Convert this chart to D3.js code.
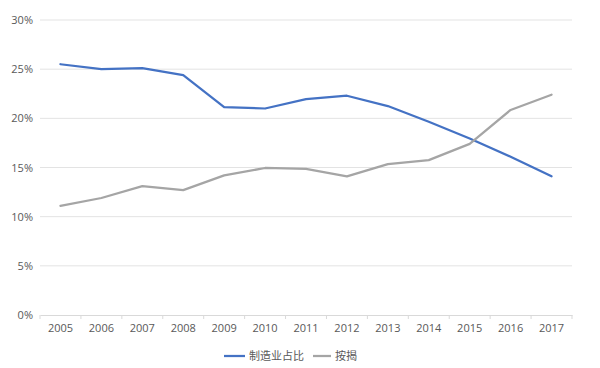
<!DOCTYPE html>
<html>
<head>
<meta charset="utf-8">
<script src="https://cdn.jsdelivr.net/npm/d3@7"></script>
<style>
body { margin: 0; background: #fff; }
text { font-family: "Open Sans", "Noto Sans CJK SC", sans-serif; fill: #595959; }
</style>
</head>
<body>
<script>
const years = ['2005', '2006', '2007', '2008', '2009', '2010', '2011', '2012', '2013', '2014', '2015', '2016', '2017']
const manufacturing = [25.5, 25.0, 25.1, 24.4, 21.15, 21.0, 21.95, 22.3, 21.25, 19.65, 17.95, 16.1, 14.1]
const mortgage = [11.1, 11.9, 13.1, 12.7, 14.2, 14.95, 14.85, 14.1, 15.35, 15.75, 17.4, 20.85, 22.4]
const yTicks = [0, 5, 10, 15, 20, 25, 30]
const seriesNames = ['制造业占比', '按揭']
const colors = ['#4472C4', '#A5A5A5']

const svg = d3.select('body').append('svg')
.attr('width', 600)
.attr('height', 368)

const margin = {top: 20, right: 28, bottom: 53, left: 40}
const width = 600 - margin.left - margin.right
const height = 368 - margin.top - margin.bottom

const x = d3.scaleBand().domain(years).range([0, width])
const y = d3.scaleLinear().domain([0, 30]).range([height, 0])

const g = svg.append('g').attr('transform', `translate(${margin.left},${margin.top})`)

// gridlines
g.selectAll('.grid')
  .data(yTicks.filter((d) => d > 0))
  .enter()
  .append('line')
  .attr('x1', 0)
  .attr('x2', width)
  .attr('y1', (d) => y(d))
  .attr('y2', (d) => y(d))
  .attr('stroke', '#e3e3e3')
  .attr('stroke-width', 1)

const yAxis = g.append('g')
.call(d3.axisLeft(y).tickValues(yTicks).tickFormat((d) => d + '%').tickSize(0).tickPadding(7))
yAxis.select('.domain').remove()
yAxis.selectAll('text').style('font-size', '11px')

const xAxis = g.append('g')
.attr('transform', `translate(0,${height})`)
.call(d3.axisBottom(x).tickSize(0).tickPadding(9))
xAxis.select('.domain').attr('stroke', '#d9d9d9')
xAxis.selectAll('text').style('font-size', '11px')

// ticks between categories
g.selectAll('.xtick')
  .data(years.concat(['end']))
  .enter()
  .append('line')
  .attr('x1', (d, i) => i * x.step())
  .attr('x2', (d, i) => i * x.step())
  .attr('y1', height)
  .attr('y2', height + 4)
  .attr('stroke', '#d9d9d9')

const line = d3.line()
  .x((d, i) => x(years[i]) + x.bandwidth() / 2)
  .y((d) => y(d))

const series = [manufacturing, mortgage]
series.forEach((s, i) => {
  g.append('path')
    .datum(s)
    .attr('fill', 'none')
    .attr('stroke', colors[i])
    .attr('stroke-width', 2.25)
    .attr('stroke-linejoin', 'round')
    .attr('stroke-linecap', 'round')
    .attr('d', line)
})

// legend
const legend = svg.append('g').attr('transform', 'translate(224,356)')
const items = [{x: 0, w: 21}, {x: 89, w: 18}]
seriesNames.forEach((name, i) => {
  const it = legend.append('g').attr('transform', `translate(${items[i].x},0)`)
  it.append('line')
    .attr('x1', 0).attr('x2', items[i].w)
    .attr('y1', 0).attr('y2', 0)
    .attr('stroke', colors[i])
    .attr('stroke-width', 2.25)
  it.append('text')
    .attr('x', items[i].w + 4)
    .attr('y', 0)
    .attr('dy', '0.35em')
    .style('font-size', '11px')
    .style('font-family', '"Noto Sans CJK SC", sans-serif')
    .text(name)
})
</script>
</body>
</html>
